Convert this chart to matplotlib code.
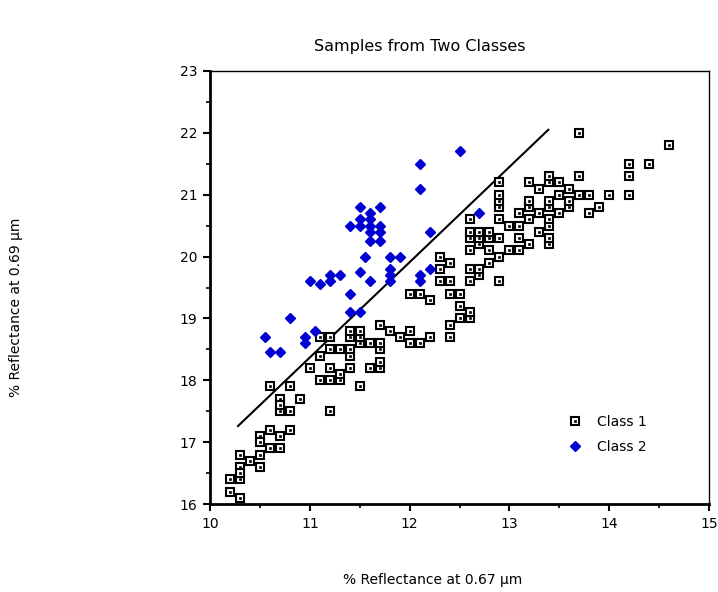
import matplotlib.pyplot as plt
from matplotlib.ticker import MultipleLocator
import numpy as np

# class 1 samples (% reflectance at 0.67 um, % reflectance at 0.69 um)
class1_x = [10.2, 10.3, 10.2, 10.3, 10.3, 10.3, 10.5, 10.3, 10.4, 10.5, 10.6, 10.7,
            10.5, 10.5, 10.7, 10.6, 10.8, 10.7, 10.8, 11.2, 10.7, 10.7, 10.9, 10.6,
            10.8, 11.5, 11.1, 11.2, 11.3, 11.3, 11.0, 11.2, 11.4, 11.6, 11.7,
            11.1, 11.4, 11.7, 11.2, 11.3, 11.4, 11.7, 11.5, 11.6, 11.7, 12.0, 12.1,
            11.1, 11.2, 11.4, 11.5, 11.9, 12.2, 12.4, 11.4, 11.5, 11.8, 12.0, 11.7,
            12.4, 12.5, 12.6, 12.6, 12.5, 12.2, 12.0, 12.1, 12.4, 12.5,
            12.3, 12.4, 12.6, 12.9, 12.7, 12.3, 12.6, 12.7, 12.4, 12.8, 12.3, 12.9,
            12.6, 12.8, 13.0, 13.1, 12.7, 13.2, 13.4, 12.6, 12.7, 12.8, 12.9, 13.1,
            13.4, 12.6, 12.7, 12.8, 13.3, 13.0, 13.1, 13.4, 12.6, 12.9, 13.2, 13.4,
            13.1, 13.3, 13.5, 13.8, 12.9, 13.2, 13.4, 13.6, 13.9, 12.9, 13.2, 13.4,
            13.6, 12.9, 13.5, 13.7, 13.8, 14.0, 14.2, 13.3, 13.6, 12.9, 13.2, 13.4,
            13.5, 13.4, 13.7, 14.2, 14.2, 14.4, 14.6, 13.7]
class1_y = [16.4, 16.4, 16.2, 16.1, 16.6, 16.5, 16.6, 16.8, 16.7, 16.8, 16.9, 16.9,
            17.1, 17.0, 17.1, 17.2, 17.2, 17.5, 17.5, 17.5, 17.7, 17.6, 17.7, 17.9,
            17.9, 17.9, 18.0, 18.0, 18.0, 18.1, 18.2, 18.2, 18.2, 18.2, 18.2,
            18.4, 18.4, 18.3, 18.5, 18.5, 18.5, 18.5, 18.6, 18.6, 18.6, 18.6, 18.6,
            18.7, 18.7, 18.7, 18.7, 18.7, 18.7, 18.7, 18.8, 18.8, 18.8, 18.8, 18.9,
            18.9, 19.0, 19.0, 19.1, 19.2, 19.3, 19.4, 19.4, 19.4, 19.4,
            19.6, 19.6, 19.6, 19.6, 19.7, 19.8, 19.8, 19.8, 19.9, 19.9, 20.0, 20.0,
            20.1, 20.1, 20.1, 20.1, 20.2, 20.2, 20.2, 20.3, 20.3, 20.3, 20.3, 20.3,
            20.3, 20.4, 20.4, 20.4, 20.4, 20.5, 20.5, 20.5, 20.6, 20.6, 20.6, 20.6,
            20.7, 20.7, 20.7, 20.7, 20.8, 20.8, 20.8, 20.8, 20.8, 20.9, 20.9, 20.9,
            20.9, 21.0, 21.0, 21.0, 21.0, 21.0, 21.0, 21.1, 21.1, 21.2, 21.2, 21.2,
            21.2, 21.3, 21.3, 21.3, 21.5, 21.5, 21.8, 22.0]

# class 2 samples
class2_x = [12.5, 12.1, 12.1, 11.5, 11.7, 11.6, 11.6, 11.5, 11.4, 11.5, 11.6, 11.7,
            11.6, 11.7, 11.6, 11.7, 12.2, 12.7, 11.55, 11.8, 11.9, 11.8, 11.8, 11.8,
            11.5, 12.1, 12.1, 12.2, 11.6, 11.0, 11.1, 11.2, 11.2, 11.3, 11.4, 11.4,
            11.5, 10.8, 11.05, 10.95, 10.95, 10.55, 10.6, 10.7]
class2_y = [21.7, 21.5, 21.1, 20.8, 20.8, 20.7, 20.6, 20.6, 20.5, 20.5, 20.5, 20.5,
            20.4, 20.4, 20.25, 20.25, 20.4, 20.7, 20.0, 20.0, 20.0, 19.8, 19.7, 19.6,
            19.75, 19.7, 19.6, 19.8, 19.6, 19.6, 19.55, 19.7, 19.6, 19.7, 19.4, 19.1,
            19.1, 19.0, 18.8, 18.7, 18.6, 18.7, 18.45, 18.45]

# decision line end points
line_x = [10.28, 13.39]
line_y = [17.26, 22.05]

fig = plt.figure(figsize=(7.18, 5.92), dpi=100)
ax = fig.add_axes([0.2925, 0.1486, 0.695, 0.7315])

ax.plot(line_x, line_y, color='black', lw=1.5, zorder=2)

# square with a dot in the middle
sq = ax.plot(class1_x, class1_y, linestyle='none', marker='s', markersize=5.3,
             markerfacecolor='white', markeredgecolor='black', markeredgewidth=1.5,
             zorder=3)[0]
dot = ax.plot(class1_x, class1_y, linestyle='none', marker='s', markersize=1.4,
              markerfacecolor='black', markeredgecolor='black', markeredgewidth=0.5,
              zorder=4)[0]
dia = ax.plot(class2_x, class2_y, linestyle='none', marker='D', markersize=4.8,
              markerfacecolor='#0000d0', markeredgecolor='#0000d0', zorder=5)[0]

ax.set_xlim(10, 15)
ax.set_ylim(16, 23)
ax.xaxis.set_major_locator(MultipleLocator(1))
ax.xaxis.set_minor_locator(MultipleLocator(0.5))
ax.yaxis.set_major_locator(MultipleLocator(1))
ax.yaxis.set_minor_locator(MultipleLocator(0.5))
ax.tick_params(which='major', direction='out', length=5, width=1.5,
               labelsize=10, pad=4)
ax.tick_params(which='minor', direction='out', length=3, width=1.2)
ax.tick_params(top=False, right=False)
ax.spines['left'].set_linewidth(2)
ax.spines['bottom'].set_linewidth(2)
ax.spines['top'].set_linewidth(1)
ax.spines['right'].set_linewidth(1)

ax.legend([(sq, dot), dia], ['Class 1', 'Class 2'], frameon=False, fontsize=10,
          loc='upper left', bbox_to_anchor=(0.69, 0.235), handlelength=1.2,
          handletextpad=1.0, labelspacing=0.8)

fig.text(420 / 718, 1 - 46 / 592, 'Samples from Two Classes', ha='center',
         va='center', fontsize=11.5)
fig.text(433 / 718, 1 - 580 / 592, '% Reflectance at 0.67 µm', ha='center',
         va='center', fontsize=10)
fig.text(16 / 718, 1 - 307 / 592, '% Reflectance at 0.69 µm', ha='center',
         va='center', rotation=90, fontsize=10)

fig.savefig('out.png', dpi=100)
